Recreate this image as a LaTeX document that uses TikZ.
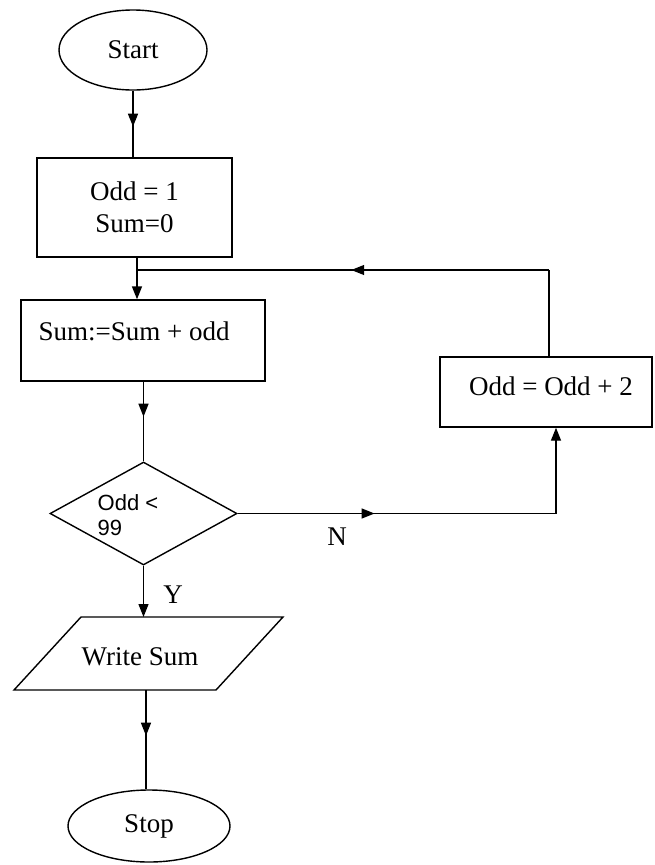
\documentclass[tikz,border=0pt]{standalone}
\usepackage{fontspec}
\setmainfont{Liberation Serif}
\newfontfamily\diasans{Liberation Sans}
\usetikzlibrary{shapes.geometric,arrows.meta,decorations.markings}
\begin{document}
\begin{tikzpicture}[x=1pt,y=-1pt,line width=1.4pt,
  box/.style={draw,rectangle,inner sep=0pt},
  term/.style={draw,ellipse,inner sep=0pt},
  txt/.style={font=\fontsize{27}{30}\selectfont,inner sep=0pt},
  sanstxt/.style={font=\diasans\fontsize{22}{26}\selectfont,inner sep=0pt},
  marr/.style={postaction={decorate},decoration={markings,mark=at position #1 with {\arrow{Triangle[length=13pt,width=10pt]}}}},
  endarr/.style={-{Triangle[length=13pt,width=10pt]}}]
\useasboundingbox (0,0) rectangle (654,865);
% nodes
\node[term,txt,minimum width=148pt,minimum height=80pt] (start) at (133,50) {Start};
\node[box,txt,align=center,minimum width=195pt,minimum height=99pt] (init) at (134.5,207.5) {Odd = 1\\[2pt]Sum=0};
\node[box,minimum width=244pt,minimum height=81pt] (sum) at (143,340.5) {};
\node[txt,anchor=base west] (sumt) at (38,340) {Sum:=Sum + odd};
\node[draw,diamond,inner sep=0pt,minimum width=187pt,minimum height=103pt] (dec) at (143.5,513.5) {};
\node[sanstxt,anchor=base west] (dect1) at (97,510) {Odd <};
\node[sanstxt,anchor=base west] (dect2) at (97,535) {99};
\coordinate (wtl) at (81,617);
\coordinate (wtr) at (283,617);
\coordinate (wbr) at (216,690);
\coordinate (wbl) at (14,690);
\draw (wtl) -- (wtr) -- (wbr) -- (wbl) -- cycle;
\node[txt,anchor=base] (write) at (140,665) {Write Sum};
\coordinate (wtop) at (143.5,617);
\coordinate (wbot) at (146,690);
\node[term,txt,minimum width=162pt,minimum height=72pt] (stop) at (149,826) {Stop};
\node[box,minimum width=212pt,minimum height=70pt] (inc) at (546,392) {};
\node[txt,anchor=base] (inct) at (551,395) {Odd = Odd + 2};
\node[txt] (ylab) at (173,595) {Y};
\node[txt] (nlab) at (337,537) {N};
\coordinate (join) at (137,270);
\coordinate (lc) at (549,270);
\coordinate (nc) at (556,513.5);
% connectors
\draw[marr=0.54] (start.south) -- (start.south |- init.north);
\draw[endarr] (init.south -| join) -- (join |- sum.north);
\draw[marr=0.44] (sum.south -| dec.north) -- (dec.north);
\draw[endarr] (dec.south) -- (wtop);
\draw[marr=0.46] (wbot) -- (wbot |- stop.north);
\draw[marr=0.43] (dec.east) -- (nc);
\draw[endarr] (nc) -- (nc |- inc.south);
\draw (inc.north -| lc) -- (lc);
\draw[marr=0.48] (lc) -- (join);
\end{tikzpicture}
\end{document}
